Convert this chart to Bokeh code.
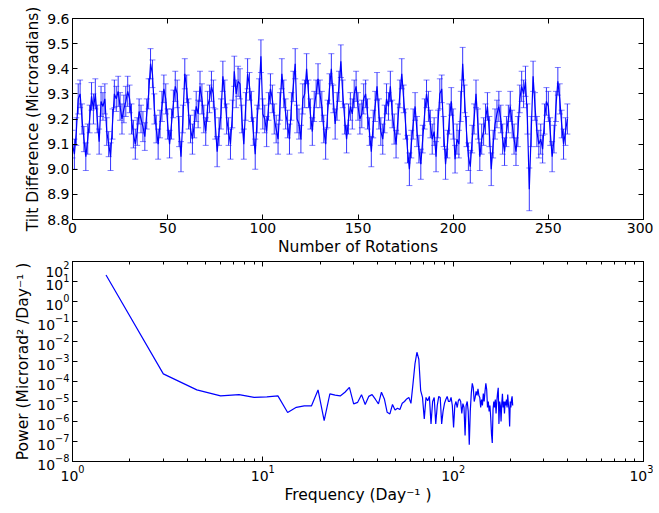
from bokeh.plotting import figure
from bokeh.models import (ColumnDataSource, Whisker, TeeHead, LinearAxis, LogAxis,
                          Range1d, FixedTicker, LogTicker, LogTickFormatter,
                          PrintfTickFormatter, BasicTickFormatter)
from bokeh.layouts import column
from bokeh.embed import file_html
from bokeh.resources import INLINE

# ---------------- data ----------------
rotations = list(range(0, 261))
tilt = [
    9.10, 9.06, 9.15, 9.28, 9.30, 9.20, 9.12, 9.05, 9.12, 9.20,
    9.29, 9.24, 9.30, 9.20, 9.11, 9.27, 9.25, 9.28, 9.15, 9.10,
    9.05, 9.18, 9.30, 9.28, 9.31, 9.25, 9.20, 9.24, 9.27, 9.31,
    9.28, 9.20, 9.14, 9.10, 9.15, 9.23, 9.20, 9.17, 9.13, 9.22,
    9.30, 9.42, 9.38, 9.24, 9.16, 9.10, 9.18, 9.25, 9.32, 9.28,
    9.18, 9.10, 9.18, 9.26, 9.33, 9.30, 9.15, 9.05, 9.20, 9.38,
    9.32, 9.22, 9.16, 9.12, 9.18, 9.25, 9.22, 9.33, 9.28, 9.20,
    9.15, 9.25, 9.28, 9.33, 9.30, 9.18, 9.07, 9.15, 9.22, 9.37,
    9.30, 9.20, 9.15, 9.10, 9.22, 9.39, 9.30, 9.35, 9.34, 9.20,
    9.10, 9.25, 9.38, 9.33, 9.25, 9.15, 9.06, 9.20, 9.30, 9.45,
    9.22, 9.20, 9.15, 9.25, 9.32, 9.28, 9.20, 9.16, 9.12, 9.25,
    9.38, 9.30, 9.22, 9.18, 9.12, 9.25, 9.33, 9.42, 9.20, 9.18,
    9.12, 9.28, 9.30, 9.40, 9.30, 9.22, 9.15, 9.25, 9.30, 9.36,
    9.30, 9.25, 9.16, 9.10, 9.22, 9.32, 9.40, 9.28, 9.18, 9.25,
    9.33, 9.43, 9.30, 9.20, 9.12, 9.20, 9.25, 9.22, 9.30, 9.33,
    9.25, 9.20, 9.22, 9.28, 9.30, 9.22, 9.15, 9.07, 9.18, 9.25,
    9.33, 9.22, 9.15, 9.12, 9.20, 9.28, 9.25, 9.33, 9.22, 9.16,
    9.10, 9.20, 9.30, 9.38, 9.28, 9.18, 9.08, 9.00, 9.10, 9.18,
    9.25, 9.15, 9.08, 9.02, 9.12, 9.22, 9.30, 9.25, 9.18, 9.12,
    9.15, 9.05, 9.18, 9.30, 9.32, 9.15, 9.02, 9.10, 9.20, 9.27,
    9.18, 9.04, 9.12, 9.10, 9.25, 9.42, 9.28, 9.15, 9.05, 9.01,
    9.12, 9.20, 9.30, 9.18, 9.05, 9.12, 9.15, 9.20, 9.25, 9.15,
    9.00, 9.10, 9.18, 9.22, 9.25, 9.20, 9.12, 9.07, 9.15, 9.20,
    9.25, 9.18, 9.12, 9.07, 9.15, 9.28, 9.33, 9.30, 9.35, 9.20,
    8.92, 9.15, 9.37, 9.25, 9.15, 9.10, 9.12, 9.08, 9.20, 9.27,
    9.25, 9.15, 9.05, 9.12, 9.25, 9.35, 9.28, 9.18, 9.10, 9.15,
    9.20,
]
tilt_err = [
    0.055, 0.060, 0.055, 0.060, 0.055, 0.060, 0.050, 0.055, 0.060, 0.055,
    0.055, 0.060, 0.060, 0.055, 0.050, 0.060, 0.055, 0.060, 0.055, 0.050,
    0.055, 0.060, 0.055, 0.050, 0.060, 0.055, 0.060, 0.055, 0.060, 0.060,
    0.055, 0.060, 0.055, 0.060, 0.055, 0.050, 0.055, 0.060, 0.055, 0.060,
    0.060, 0.060, 0.055, 0.060, 0.055, 0.060, 0.055, 0.060, 0.055, 0.060,
    0.060, 0.055, 0.060, 0.055, 0.060, 0.055, 0.060, 0.060, 0.055, 0.060,
    0.055, 0.060, 0.055, 0.060, 0.055, 0.060, 0.055, 0.060, 0.060, 0.055,
    0.055, 0.060, 0.055, 0.060, 0.055, 0.060, 0.060, 0.055, 0.060, 0.060,
    0.055, 0.060, 0.055, 0.060, 0.055, 0.060, 0.055, 0.060, 0.060, 0.055,
    0.060, 0.055, 0.060, 0.055, 0.060, 0.055, 0.060, 0.055, 0.060, 0.065,
    0.060, 0.055, 0.060, 0.055, 0.060, 0.055, 0.060, 0.055, 0.060, 0.055,
    0.060, 0.055, 0.060, 0.055, 0.060, 0.055, 0.060, 0.060, 0.055, 0.060,
    0.055, 0.060, 0.055, 0.060, 0.055, 0.060, 0.055, 0.060, 0.055, 0.060,
    0.055, 0.060, 0.055, 0.060, 0.055, 0.060, 0.060, 0.055, 0.060, 0.055,
    0.060, 0.065, 0.055, 0.060, 0.055, 0.060, 0.055, 0.060, 0.055, 0.060,
    0.055, 0.060, 0.055, 0.060, 0.055, 0.060, 0.055, 0.060, 0.055, 0.060,
    0.055, 0.060, 0.055, 0.060, 0.055, 0.060, 0.055, 0.060, 0.055, 0.060,
    0.055, 0.060, 0.055, 0.060, 0.055, 0.060, 0.055, 0.065, 0.055, 0.060,
    0.055, 0.060, 0.055, 0.060, 0.055, 0.060, 0.055, 0.060, 0.055, 0.060,
    0.055, 0.060, 0.055, 0.060, 0.055, 0.060, 0.060, 0.055, 0.060, 0.055,
    0.060, 0.055, 0.060, 0.055, 0.060, 0.065, 0.055, 0.060, 0.055, 0.065,
    0.055, 0.060, 0.055, 0.060, 0.055, 0.060, 0.055, 0.060, 0.055, 0.060,
    0.065, 0.055, 0.060, 0.055, 0.060, 0.055, 0.060, 0.055, 0.060, 0.055,
    0.060, 0.055, 0.060, 0.055, 0.060, 0.055, 0.060, 0.055, 0.060, 0.060,
    0.085, 0.060, 0.060, 0.055, 0.060, 0.055, 0.060, 0.055, 0.060, 0.055,
    0.060, 0.055, 0.060, 0.055, 0.060, 0.055, 0.060, 0.055, 0.060, 0.055,
    0.060,
]

freq_step = 1.5  # Day^-1 per spectral bin
power = [
    2.1e1, 2.4e-4, 3.8e-5, 1.9e-5, 2.2e-5, 1.6e-5, 1.7e-5, 1.9e-5, 2.8e-6, 5.1e-6,
    6.0e-6, 6.0e-6, 3.8e-5, 1.1e-6, 2.4e-5, 2.1e-5, 1.9e-5, 2.9e-5, 5.1e-5, 7.6e-6,
    9.1e-6, 2.2e-5, 7.1e-6, 1.8e-5, 2.2e-5, 1.3e-5, 7.6e-6, 2.9e-5, 1.35e-5, 2.9e-6,
    2.4e-6, 7.1e-6, 3.8e-6, 4.6e-6, 4.0e-6, 8.1e-6, 1.0e-5, 1.35e-5, 1.6e-5, 8.1e-6,
    7.6e-5, 7.6e-4, 2.9e-3, 1.3e-3, 3.5e-5, 1.6e-5, 1.35e-6, 1.6e-5, 1.1e-5, 1.8e-5,
    7.6e-7, 1.0e-5, 1.6e-5, 7.6e-7, 6.3e-6, 1.8e-5, 1.6e-5, 7.6e-7, 3.2e-6, 7.9e-6,
    1.26e-5, 1.8e-5, 1.0e-5, 1.0e-5, 1.6e-5, 6.3e-6, 5.1e-7, 6.3e-6, 1.0e-5, 5.0e-6,
    1.1e-5, 1.35e-5, 1.0e-5, 2.5e-6, 7.9e-6, 5.0e-6, 2.0e-7, 6.3e-6, 1.0e-5, 3.2e-6,
    6.8e-8, 3.2e-6, 2.5e-5, 8.1e-5, 5.0e-5, 1.0e-5, 1.6e-5, 3.2e-5, 2.0e-5, 4.3e-5,
    2.0e-5, 1.6e-5, 5.0e-6, 1.26e-5, 6.3e-6, 2.5e-5, 1.0e-5, 3.2e-5, 8.1e-5, 4.0e-5,
    5.0e-6, 1.0e-5, 3.2e-6, 6.3e-6, 1.6e-6, 2.4e-7, 8.5e-8, 4.0e-6, 1.0e-5, 5.0e-6,
    1.26e-5, 2.5e-6, 1.0e-5, 2.5e-5, 4.8e-5, 7.6e-7, 1.0e-5, 6.3e-6, 1.0e-6, 7.9e-6,
    2.4e-5, 5.0e-6, 1.0e-5, 2.5e-6, 1.0e-5, 6.3e-6, 1.26e-5, 5.0e-6, 2.2e-5, 7.9e-6,
    4.0e-6, 5.6e-7, 1.0e-5, 5.0e-6, 1.26e-5, 1.8e-5, 6.3e-6,
]
freq = [freq_step * (i + 1) for i in range(len(power))]

x_ticks_top = [0, 50, 100, 150, 200, 250, 300]
y_ticks_top = [8.8, 8.9, 9.0, 9.1, 9.2, 9.3, 9.4, 9.5, 9.6]
y_ticks_bottom = [1e-8, 1e-7, 1e-6, 1e-5, 1e-4, 1e-3, 1e-2, 1e-1, 1e0, 1e1, 1e2]

BLUE = "#0000ff"
FONT = "DejaVu Sans"
TICK_FS = "14px"
LABEL_FS = "15.5px"


def style_axis(ax, show_labels=True, minor=False):
    ax.axis_line_color = "black"
    ax.major_tick_in = 5
    ax.major_tick_out = 0
    ax.major_tick_line_color = "black"
    if minor:
        ax.minor_tick_in = 3
        ax.minor_tick_out = 0
        ax.minor_tick_line_color = "black"
    else:
        ax.minor_tick_line_color = None
    ax.major_label_text_font = FONT
    if show_labels:
        ax.major_label_text_color = "black"
        ax.major_label_text_font_size = TICK_FS
        ax.major_label_standoff = 3
    else:
        # tick-only axis (matplotlib style ticks on the top/right spines)
        ax.major_label_text_color = None
        ax.major_label_text_font_size = "1px"
        ax.major_label_standoff = 0
    ax.axis_label_text_font = FONT
    ax.axis_label_text_font_style = "normal"
    ax.axis_label_text_font_size = LABEL_FS
    ax.axis_label_text_color = "black"
    ax.axis_label_standoff = 2


# ---------------- top figure ----------------
src = ColumnDataSource(dict(
    x=rotations, y=tilt,
    upper=[v + e for v, e in zip(tilt, tilt_err)],
    lower=[v - e for v, e in zip(tilt, tilt_err)],
))

p1 = figure(width=653, height=260, output_backend="svg", toolbar_location=None,
            x_range=Range1d(0, 300), y_range=Range1d(8.8, 9.6),
            min_border_left=72, min_border_right=10, min_border_top=18,
            min_border_bottom=41)
p1.xgrid.grid_line_color = None
p1.ygrid.grid_line_color = None
p1.outline_line_color = "black"
p1.background_fill_color = "white"
p1.border_fill_color = "white"

p1.add_layout(Whisker(source=src, base="x", upper="upper", lower="lower",
                      line_color=BLUE, line_width=1, line_alpha=0.8,
                      upper_head=TeeHead(size=6, line_color=BLUE, line_alpha=0.5),
                      lower_head=TeeHead(size=6, line_color=BLUE, line_alpha=0.5)))
p1.line("x", "y", source=src, line_color=BLUE, line_width=1.2)

p1.xaxis.ticker = FixedTicker(ticks=x_ticks_top)
p1.yaxis.ticker = FixedTicker(ticks=y_ticks_top)
p1.yaxis.formatter = PrintfTickFormatter(format="%.1f")
p1.xaxis.axis_label = "Number of Rotations"
p1.yaxis.axis_label = "Tilt Difference (Microradians)"
style_axis(p1.xaxis[0])
style_axis(p1.yaxis[0])
ax_top = LinearAxis(ticker=FixedTicker(ticks=x_ticks_top))
style_axis(ax_top, show_labels=False)
p1.add_layout(ax_top, "above")
ax_right = LinearAxis(ticker=FixedTicker(ticks=y_ticks_top))
style_axis(ax_right, show_labels=False)
p1.add_layout(ax_right, "right")

# ---------------- bottom figure ----------------
src2 = ColumnDataSource(dict(f=freq, p=power))
p2 = figure(width=653, height=250, output_backend="svg", toolbar_location=None,
            x_axis_type="log", y_axis_type="log",
            x_range=Range1d(1, 1000), y_range=Range1d(1e-8, 1e2),
            min_border_left=72, min_border_right=9, min_border_top=1,
            min_border_bottom=49)
p2.xgrid.grid_line_color = None
p2.ygrid.grid_line_color = None
p2.outline_line_color = "black"
p2.background_fill_color = "white"
p2.border_fill_color = "white"
p2.line("f", "p", source=src2, line_color=BLUE, line_width=1.2)

p2.xaxis.ticker = LogTicker(num_minor_ticks=10)
p2.yaxis.ticker = FixedTicker(ticks=y_ticks_bottom)
p2.yaxis.formatter = LogTickFormatter()
p2.xaxis.formatter = LogTickFormatter()
p2.xaxis.axis_label = "Frequency (Day\u207b\u00b9 )"
p2.yaxis.axis_label = "Power (Microrad\u00b2 /Day\u207b\u00b9 )"
style_axis(p2.xaxis[0], minor=True)
style_axis(p2.yaxis[0])
ax_top2 = LogAxis(ticker=LogTicker(num_minor_ticks=10), formatter=BasicTickFormatter())
style_axis(ax_top2, show_labels=False, minor=True)
p2.add_layout(ax_top2, "above")
ax_right2 = LogAxis(ticker=FixedTicker(ticks=y_ticks_bottom), formatter=BasicTickFormatter())
style_axis(ax_right2, show_labels=False)
p2.add_layout(ax_right2, "right")

layout = column(p1, p2)
open("out.html", "w").write(file_html(layout, INLINE))
